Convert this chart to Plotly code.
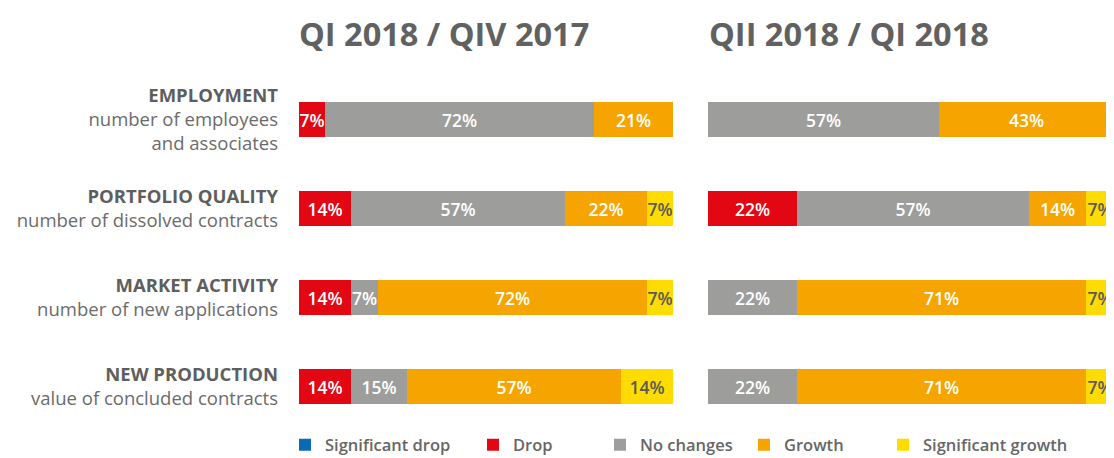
import plotly.graph_objects as go

# ---- data ----
row_titles = ["EMPLOYMENT", "PORTFOLIO QUALITY", "MARKET ACTIVITY", "NEW PRODUCTION"]
row_subtitles = ["number of employees<br>and associates", "number of dissolved contracts",
                 "number of new applications", "value of concluded contracts"]
panel_titles = ["QI 2018 / QIV 2017", "QII 2018 / QI 2018"]
series_names = ["Significant drop", "Drop", "No changes", "Growth", "Significant growth"]

left_sig_drop = [0, 0, 0, 0]
left_drop = [7, 14, 14, 14]
left_no_change = [72, 57, 7, 15]
left_growth = [21, 22, 72, 57]
left_sig_growth = [0, 7, 7, 14]

right_sig_drop = [0, 0, 0, 0]
right_drop = [0, 22, 0, 0]
right_no_change = [57, 57, 22, 22]
right_growth = [43, 14, 71, 71]
right_sig_growth = [0, 7, 7, 7]

colors = ["#0a6bb5", "#e30613", "#9d9d9c", "#f6a500", "#ffdc00"]
text_colors = ["#ffffff", "#ffffff", "#ffffff", "#ffffff", "#5a5a5a"]

# page body adds an 8px offset; figure coordinates = reference pixels - 8
OFF = 8
W, H = 1114 - OFF, 458 - OFF
ypos = [3, 2, 1, 0]

fig = go.Figure()

left = [left_sig_drop, left_drop, left_no_change, left_growth, left_sig_growth]
right = [right_sig_drop, right_drop, right_no_change, right_growth, right_sig_growth]

for panel, (data, xa, ya) in enumerate([(left, "x", "y"), (right, "x2", "y2")]):
    for i, vals in enumerate(data):
        fig.add_trace(go.Bar(
            x=vals, y=ypos, orientation="h", name=series_names[i],
            marker=dict(color=colors[i], line=dict(width=0)),
            width=0.4,
            text=[f"{v}%" if v > 0 else "" for v in vals],
            textposition="inside", insidetextanchor="middle",
            constraintext="none", textangle=0,
            textfont=dict(family="Open Sans", size=17.5, color=text_colors[i], weight=600),
            xaxis=xa, yaxis=ya,
            showlegend=(panel == 0),
            legend=("legend" if i == 0 else f"legend{i+1}"),
            hoverinfo="skip",
        ))

ticktext = [f"<span style='font-weight:bold;color:#5e5e5e'>{t}</span><br>{s}"
            for t, s in zip(row_titles, row_subtitles)]

top_px, bot_px = 75 - OFF, 431 - OFF


def py(ref_px):
    return (bot_px - (ref_px - OFF)) / (bot_px - top_px)


def px(ref_px):
    return (ref_px - OFF) / W


def cy(ref_px):
    return (H - (ref_px - OFF)) / H


fig.update_layout(
    width=W, height=H,
    margin=dict(l=0, r=0, t=top_px, b=H - bot_px, autoexpand=False),
    paper_bgcolor="white", plot_bgcolor="white",
    barmode="stack", bargap=0,
    uniformtext=dict(minsize=17.5, mode="show"),
    font=dict(family="Open Sans", color="#6b6b6b"),
    xaxis=dict(domain=[px(299), px(673)], range=[0, 100], visible=False, fixedrange=True),
    xaxis2=dict(domain=[px(708), 1.0], range=[0, 100], visible=False, fixedrange=True),
    yaxis=dict(domain=[0, 1], range=[-0.5, 3.5], tickvals=ypos, ticktext=ticktext,
               showgrid=False, zeroline=False, showline=False, ticks="",
               ticklabelstandoff=20, tickfont=dict(size=18.5, color="#6b6b6b")),
    yaxis2=dict(domain=[0, 1], range=[-0.5, 3.5], anchor="x2", showticklabels=False,
                showgrid=False, zeroline=False, showline=False, ticks=""),
)

legend_text_ref = [325, 513, 640, 784, 923]
leg_font = dict(family="Open Sans", size=16.5, color="#666666", weight=600)
for i, xr in enumerate(legend_text_ref):
    key = "legend" if i == 0 else f"legend{i+1}"
    fig.update_layout(**{key: dict(x=px(xr - 40), y=cy(445),
                                   xref="paper", yref="container", xanchor="left", yanchor="middle",
                                   orientation="h", font=leg_font, bgcolor="rgba(0,0,0,0)",
                                   itemclick=False, itemdoubleclick=False)})

for j, t in enumerate(panel_titles):
    fig.add_annotation(text=f"<b>{t}</b>", x=px([299, 709][j]), xref="paper",
                       y=py(33), yref="paper", xanchor="left", yanchor="middle",
                       xshift=-2,
                       showarrow=False, font=dict(family="Open Sans", size=32.5, color="#616161"))

fig.write_html("out.html")
